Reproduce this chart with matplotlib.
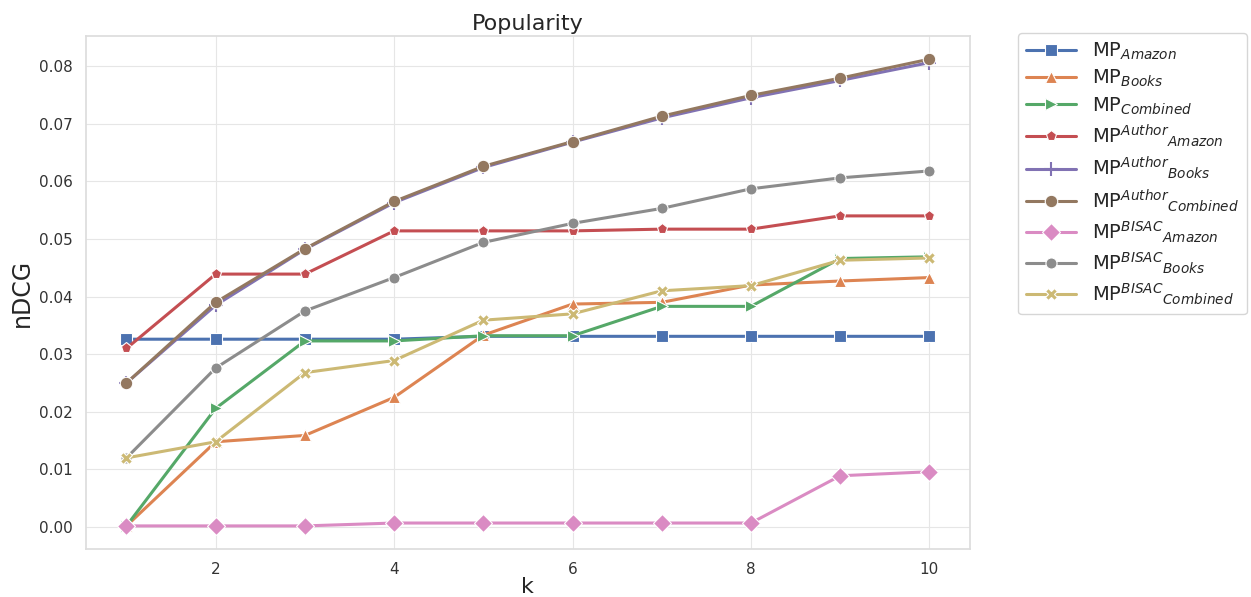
import matplotlib
matplotlib.use("Agg")
from matplotlib import pyplot as plt
import seaborn as sns

k = [1, 2, 3, 4, 5, 6, 7, 8, 9, 10]

mp_amazon = [0.0326, 0.0326, 0.0326, 0.0326, 0.0331, 0.0331, 0.0331, 0.0331, 0.0331, 0.0331]
mp_books = [0.0002, 0.0148, 0.0159, 0.0225, 0.0333, 0.0387, 0.0390, 0.0420, 0.0427, 0.0433]
mp_combined = [0.0002, 0.0206, 0.0323, 0.0323, 0.0332, 0.0332, 0.0383, 0.0383, 0.0466, 0.0469]
mp_author_amazon = [0.0310, 0.0439, 0.0439, 0.0514, 0.0514, 0.0514, 0.0517, 0.0517, 0.0540, 0.0540]
mp_author_books = [0.0250, 0.0385, 0.0482, 0.0563, 0.0624, 0.0668, 0.0710, 0.0745, 0.0775, 0.0806]
mp_author_combined = [0.0250, 0.0390, 0.0483, 0.0565, 0.0626, 0.0669, 0.0713, 0.0749, 0.0779, 0.0812]
mp_bisac_amazon = [0.0002, 0.0002, 0.0002, 0.0007, 0.0007, 0.0007, 0.0007, 0.0007, 0.0089, 0.0096]
mp_bisac_books = [0.0120, 0.0276, 0.0375, 0.0433, 0.0494, 0.0527, 0.0553, 0.0587, 0.0606, 0.0618]
mp_bisac_combined = [0.0120, 0.0148, 0.0268, 0.0289, 0.0359, 0.0370, 0.0410, 0.0419, 0.0463, 0.0467]

labels = [r'MP$_{Amazon}$', r'MP$_{Books}$', r'MP$_{Combined}$',
          r'MP$^{Author}{}_{Amazon}$', r'MP$^{Author}{}_{Books}$', r'MP$^{Author}{}_{Combined}$',
          r'MP$^{BISAC}{}_{Amazon}$', r'MP$^{BISAC}{}_{Books}$', r'MP$^{BISAC}{}_{Combined}$']
series = [mp_amazon, mp_books, mp_combined,
          mp_author_amazon, mp_author_books, mp_author_combined,
          mp_bisac_amazon, mp_bisac_books, mp_bisac_combined]
markers = ['s', '^', '>', 'p', '+', 'o', 'D', 'o', 'X']
sizes = [9, 8, 8, 8, 10, 9, 9, 8, 9]

sns.set_theme(style="whitegrid", rc={"grid.color": "#e6e6e6", "grid.linewidth": 0.8,
                                      "axes.edgecolor": "#dddddd"})
colors = sns.color_palette("deep")

fig, ax = plt.subplots(figsize=(12.51, 5.97), dpi=100)
for i, (vals, lab) in enumerate(zip(series, labels)):
    ax.plot(k, vals, color=colors[i], marker=markers[i], markersize=sizes[i],
            linewidth=2.2, markeredgewidth=1.5 if markers[i] == '+' else 0.8,
            markeredgecolor=colors[i] if markers[i] == '+' else 'white', label=lab)

ax.set_title('Popularity', fontsize=16, pad=4)
ax.set_xlabel('k', fontsize=16, labelpad=0)
ax.set_ylabel('nDCG', fontsize=17)
ax.set_xticks([2, 4, 6, 8, 10])
ax.tick_params(labelsize=11, colors='#333333')
ax.legend(loc='upper left', bbox_to_anchor=(1.055, 1.005), fontsize=14, borderaxespad=0,
          handlelength=2.6, labelspacing=0.3)
fig.subplots_adjust(left=0.069, right=0.775, top=0.94, bottom=0.08)
fig.savefig('out.png', dpi=100)
plt.close()
